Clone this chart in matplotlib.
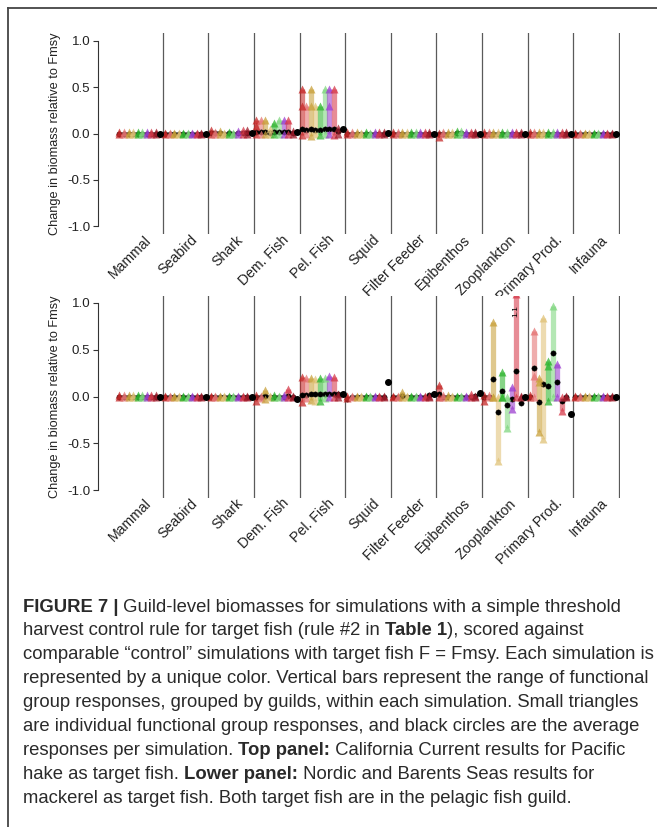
import matplotlib
matplotlib.use('Agg')
import matplotlib.pyplot as plt
from matplotlib.lines import Line2D

plt.rcParams['font.family'] = ['Liberation Sans', 'DejaVu Sans']

W, H = 657, 827
DPI = 100

guilds = ["Mammal", "Seabird", "Shark", "Dem. Fish", "Pel. Fish", "Squid",
          "Filter Feeder", "Epibenthos", "Zooplankton", "Primary Prod.", "Infauna"]

# colours of the 9 simulations (one bar per simulation inside each guild)
sim_colors = ['#c62828', '#e57373', '#c9a13b', '#e0c277', '#2fb52f',
              '#7fd67f', '#9c3fd0', '#d63a4a', '#9e1b2a']

# ---------------- top panel: California Current (hake) ----------------
top_hi = [
    [0.02, 0.02, 0.02, 0.02, 0.02, 0.02, 0.02, 0.02, 0.02],
    [0.01, 0.01, 0.01, 0.01, 0.01, 0.01, 0.01, 0.01, 0.01],
    [0.04, 0.02, 0.03, 0.01, 0.02, 0.01, 0.03, 0.04, 0.04],
    [0.15, 0.15, 0.15, 0.05, 0.11, 0.15, 0.15, 0.15, 0.03],
    [0.48, 0.30, 0.48, 0.30, 0.30, 0.48, 0.48, 0.48, 0.06],
    [0.02, 0.02, 0.02, 0.01, 0.02, 0.01, 0.02, 0.02, 0.02],
    [0.02, 0.02, 0.02, 0.02, 0.02, 0.02, 0.02, 0.02, 0.02],
    [0.01, 0.02, 0.02, 0.02, 0.03, 0.03, 0.02, 0.02, 0.02],
    [0.02, 0.02, 0.02, 0.02, 0.02, 0.02, 0.02, 0.02, 0.02],
    [0.02, 0.02, 0.02, 0.02, 0.02, 0.02, 0.02, 0.02, 0.02],
    [0.01, 0.01, 0.01, 0.01, 0.01, 0.01, 0.01, 0.01, 0.01],
]
top_lo = [
    [0.0, -0.01, 0.0, 0.0, 0.0, 0.0, 0.0, 0.0, 0.0],
    [0.0, 0.0, 0.0, 0.0, 0.0, 0.0, 0.0, 0.0, 0.0],
    [0.0, 0.0, 0.0, 0.0, 0.0, 0.0, 0.0, 0.0, 0.0],
    [0.0, 0.0, 0.0, 0.0, 0.0, 0.0, 0.0, 0.0, 0.0],
    [-0.02, 0.0, -0.03, 0.0, -0.02, 0.0, 0.0, -0.02, 0.0],
    [0.0, 0.0, 0.0, 0.0, 0.0, 0.0, 0.0, 0.0, 0.0],
    [0.0, 0.0, 0.0, 0.0, 0.0, 0.0, 0.0, 0.0, 0.0],
    [-0.04, 0.0, 0.0, 0.0, 0.0, 0.0, 0.0, 0.0, 0.0],
    [0.0, 0.0, 0.0, 0.0, 0.0, 0.0, 0.0, 0.0, 0.0],
    [0.0, 0.0, 0.0, 0.0, 0.0, 0.0, 0.0, 0.0, 0.0],
    [-0.01, -0.01, -0.01, -0.01, -0.01, -0.01, -0.01, -0.01, -0.01],
]
top_mean = [
    [0.0, 0.0, 0.0, 0.0, 0.0, 0.0, 0.0, 0.0, 0.0],
    [0.0, 0.0, 0.0, 0.0, 0.0, 0.0, 0.0, 0.0, 0.0],
    [0.01, 0.01, 0.01, 0.0, 0.01, 0.0, 0.01, 0.01, 0.01],
    [0.02, 0.02, 0.02, 0.01, 0.02, 0.02, 0.02, 0.02, 0.01],
    [0.05, 0.04, 0.05, 0.04, 0.04, 0.05, 0.05, 0.05, 0.03],
    [0.0, 0.0, 0.0, 0.0, 0.0, 0.0, 0.0, 0.0, 0.0],
    [0.0, 0.0, 0.0, 0.0, 0.0, 0.0, 0.0, 0.0, 0.0],
    [-0.01, 0.0, 0.0, 0.0, 0.01, 0.01, 0.0, 0.0, 0.0],
    [0.0, 0.0, 0.0, 0.0, 0.0, 0.0, 0.0, 0.0, 0.0],
    [0.0, 0.0, 0.0, 0.0, 0.0, 0.0, 0.0, 0.0, 0.0],
    [0.0, 0.0, 0.0, 0.0, 0.0, 0.0, 0.0, 0.0, 0.0],
]
top_end = [0.0, 0.0, 0.01, 0.02, 0.05, 0.01, 0.0, 0.0, 0.0, 0.0, 0.0]
# extra individual group responses (guild, sim, value)
top_extra = [(4, 0, 0.30), (4, 2, 0.30), (4, 6, 0.30), (3, 0, 0.08)]

# ---------------- bottom panel: Nordic & Barents (mackerel) ----------------
bot_hi = [
    [0.02, 0.02, 0.02, 0.02, 0.02, 0.02, 0.02, 0.02, 0.02],
    [0.01, 0.01, 0.01, 0.01, 0.01, 0.01, 0.01, 0.01, 0.01],
    [0.01, 0.01, 0.01, 0.01, 0.01, 0.01, 0.01, 0.01, 0.01],
    [0.02, 0.01, 0.07, 0.01, 0.02, 0.01, 0.02, 0.08, 0.01],
    [0.21, 0.20, 0.20, 0.19, 0.20, 0.20, 0.22, 0.21, 0.03],
    [0.01, 0.01, 0.01, 0.01, 0.01, 0.01, 0.01, 0.01, 0.01],
    [0.01, 0.01, 0.05, 0.01, 0.01, 0.01, 0.01, 0.01, 0.01],
    [0.12, 0.02, 0.02, 0.01, 0.01, 0.01, 0.01, 0.03, 0.01],
    [0.02, 0.02, 0.80, 0.0, 0.26, 0.0, 0.10, 1.10, 0.01],
    [0.02, 0.70, 0.20, 0.84, 0.38, 0.97, 0.35, 0.0, 0.01],
    [0.01, 0.01, 0.01, 0.01, 0.01, 0.01, 0.01, 0.01, 0.01],
]
bot_lo = [
    [0.0, 0.0, 0.0, 0.0, 0.0, 0.0, 0.0, 0.0, 0.0],
    [0.0, 0.0, 0.0, 0.0, 0.0, 0.0, 0.0, 0.0, 0.0],
    [0.0, 0.0, 0.0, 0.0, 0.0, 0.0, 0.0, 0.0, 0.0],
    [-0.05, -0.02, -0.03, 0.0, 0.0, -0.01, 0.0, 0.0, 0.0],
    [-0.06, -0.02, -0.04, -0.05, -0.05, -0.02, 0.0, 0.0, 0.0],
    [-0.02, 0.0, 0.0, 0.0, 0.0, 0.0, 0.0, 0.0, 0.0],
    [0.0, 0.0, 0.0, 0.0, 0.0, 0.0, 0.0, 0.0, 0.0],
    [0.0, 0.0, 0.0, 0.0, 0.0, 0.0, 0.0, 0.0, 0.0],
    [-0.05, -0.01, 0.0, -0.69, 0.0, -0.34, -0.13, 0.0, -0.01],
    [0.0, 0.0, -0.38, -0.45, -0.05, 0.0, 0.0, -0.15, 0.0],
    [-0.01, -0.01, -0.01, -0.01, -0.01, -0.01, -0.01, -0.01, -0.01],
]
bot_mean = [
    [0.0, 0.0, 0.0, 0.0, 0.0, 0.0, 0.0, 0.0, 0.0],
    [0.0, 0.0, 0.0, 0.0, 0.0, 0.0, 0.0, 0.0, 0.0],
    [0.0, 0.0, 0.0, 0.0, 0.0, 0.0, 0.0, 0.0, 0.0],
    [0.0, 0.0, 0.01, 0.0, 0.0, 0.0, 0.0, 0.01, 0.0],
    [0.02, 0.02, 0.03, 0.03, 0.03, 0.03, 0.03, 0.03, 0.03],
    [-0.03, 0.0, 0.0, 0.0, 0.0, 0.0, 0.0, 0.0, 0.0],
    [0.0, 0.0, 0.01, 0.0, 0.0, 0.0, 0.0, 0.0, 0.02],
    [0.03, 0.0, 0.0, 0.0, 0.0, 0.0, 0.0, 0.0, 0.01],
    [0.0, 0.0, 0.19, -0.17, 0.06, -0.09, -0.03, 0.27, -0.07],
    [0.0, 0.30, -0.06, 0.13, 0.11, 0.46, 0.15, -0.05, 0.0],
    [0.0, 0.0, 0.0, 0.0, 0.0, 0.0, 0.0, 0.0, 0.0],
]
bot_end = [0.0, 0.0, 0.0, -0.03, 0.03, 0.16, 0.03, 0.04, 0.0, -0.19, 0.0]
bot_extra = [(9, 1, 0.22), (9, 4, 0.33), (9, 2, 0.15), (8, 4, 0.0), (8, 2, 0.0)]
bot_offscale = [(8, 7, "1.1")]

y_ticks = [-1.0, -0.5, 0.0, 0.5, 1.0]
y_ticklabels = ["-1.0", "-0.5", "0.0", "0.5", "1.0"]
ylabel = "Change in biomass relative to Fmsy"

YLIM = (-1.08, 1.08)
XLIM = (0.081, 11.53)
NPOS = 10


def xpos(g, s):
    return g + 1 - 0.5 + (s + 0.5) / NPOS


def draw_panel(ax, hi, lo, mean, end, extra, offscale=()):
    ax.set_xlim(*XLIM)
    ax.set_ylim(*YLIM)
    for k in range(len(guilds)):
        ax.axvline(k + 1.5, color='#5a5a5a', lw=0.9, zorder=1)
    for g in range(len(guilds)):
        for s in range(len(sim_colors)):
            x = xpos(g, s)
            c = sim_colors[s]
            ax.plot([x, x], [lo[g][s], hi[g][s]], color=c, alpha=0.58, lw=3.8,
                    solid_capstyle='butt', zorder=2)
            ax.plot(x, mean[g][s], 'o', color='black', ms=3.8, mec='black',
                    mew=0.3, zorder=3)
            ax.plot([x, x], [lo[g][s], hi[g][s]], ls='none', marker='^',
                    ms=5.4, color=c, alpha=0.75, mec='none', zorder=4)
        ax.plot(xpos(g, NPOS - 1), end[g], 'o', color='black', ms=4.0, zorder=5)
    for g, s, v in extra:
        ax.plot(xpos(g, s), v, ls='none', marker='^', ms=5.4,
                color=sim_colors[s], alpha=0.75, mec='none', zorder=4)
    for g, s, lab in offscale:
        ax.text(xpos(g, s), 0.91, lab, rotation=90, fontsize=6,
                ha='center', va='center', zorder=6)
    for sp in ['top', 'right', 'bottom']:
        ax.spines[sp].set_visible(False)
    ax.spines['left'].set_bounds(-1, 1)
    ax.spines['left'].set_color('#333333')
    ax.spines['left'].set_linewidth(0.8)
    ax.set_yticks(y_ticks)
    ax.set_yticklabels(y_ticklabels)
    ax.tick_params(axis='y', length=3.5, width=0.8, color='#333333',
                   labelsize=9.6, pad=2, labelcolor='#222222')
    ax.set_xticks([])
    for g, name in enumerate(guilds):
        ax.text(g + 1 + 0.1, 0.006, name, transform=ax.get_xaxis_transform(),
                rotation=45, rotation_mode='anchor', ha='right', va='top',
                fontsize=10.2, color='#222222')


fig = plt.figure(figsize=(W / DPI, H / DPI), dpi=DPI)

ax_w = (XLIM[1] - XLIM[0]) * 45.6 / W
ax1 = fig.add_axes([98 / W, 1 - 233.9 / H, ax_w, 200.8 / H])
ax2 = fig.add_axes([98 / W, 1 - 497.5 / H, ax_w, 202.0 / H])
draw_panel(ax1, top_hi, top_lo, top_mean, top_end, top_extra)
draw_panel(ax2, bot_hi, bot_lo, bot_mean, bot_end, bot_extra, bot_offscale)

fig.text(55 / W, 1 - 134 / H, ylabel, rotation=90, ha='center', va='center',
         fontsize=9.2, color='#222222')
fig.text(55 / W, 1 - 397 / H, ylabel, rotation=90, ha='center', va='center',
         fontsize=9.2, color='#222222')

# frame lines of the figure box
fig.add_artist(Line2D([8 / W, 1.0], [1 - 8 / H, 1 - 8 / H], color='#444444', lw=1.3))
fig.add_artist(Line2D([8 / W, 8 / W], [1 - 8 / H, 0.0], color='#444444', lw=1.3))

# caption
caption = [
    [("FIGURE 7 |", True), (" Guild-level biomasses for simulations with a simple threshold", False)],
    [("harvest control rule for target fish (rule #2 in ", False), ("Table 1", True), ("), scored against", False)],
    [("comparable \u201ccontrol\u201d simulations with target fish F = Fmsy. Each simulation is", False)],
    [("represented by a unique color. Vertical bars represent the range of functional", False)],
    [("group responses, grouped by guilds, within each simulation. Small triangles", False)],
    [("are individual functional group responses, and black circles are the average", False)],
    [("responses per simulation. ", False), ("Top panel:", True), (" California Current results for Pacific", False)],
    [("hake as target fish. ", False), ("Lower panel:", True), (" Nordic and Barents Seas results for", False)],
    [("mackerel as target fish. Both target fish are in the pelagic fish guild.", False)],
]
CAP_FS = 13.3
fig.canvas.draw()
renderer = fig.canvas.get_renderer()


def text_w(s, bold):
    t = fig.text(0, 0, s, fontsize=CAP_FS, fontweight='bold' if bold else 'normal')
    w = t.get_window_extent(renderer).width
    t.remove()
    return w


def seg_w(s, bold):
    return text_w("|" + s + "|", bold) - text_w("||", bold)


y0 = 607
dy = 23.9
for i, line in enumerate(caption):
    x = 23.0
    yc = y0 + i * dy
    for s, bold in line:
        fig.text(x / W, 1 - yc / H, s, fontsize=CAP_FS,
                 fontweight='bold' if bold else 'normal', color='#2a2a2a',
                 ha='left', va='center')
        x += seg_w(s, bold)

fig.savefig('out.png', dpi=DPI)
